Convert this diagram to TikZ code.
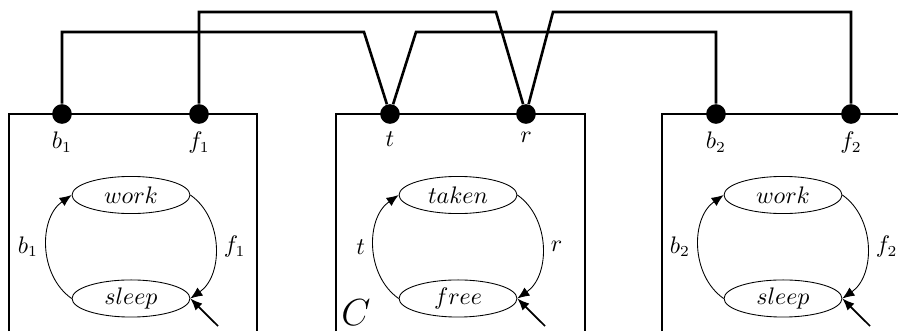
\documentclass[tikz,border=0pt]{standalone}
\usepackage{amsmath}
\usepackage{tikz}
\usetikzlibrary{arrows.meta,positioning,shapes.geometric}

\begin{document}
\begin{tikzpicture}[x=0.0161cm, y=0.0161cm,
    every node/.style={font=\fontsize{10.7}{13}\selectfont},
    state/.style={draw, ellipse, thin, minimum width=54pt, minimum height=17pt, inner sep=0pt},
    port/.style={circle, fill=black, minimum size=9pt, inner sep=0pt},
    comp/.style={line width=1.2pt},
    wire/.style={line width=1.2pt},
    trans/.style={-{Latex[length=5.5pt, width=4.5pt]}, thin},
    init/.style={-{Latex[length=5.5pt, width=4.5pt]}, thick},
    node distance=30pt,
]
\useasboundingbox (0,0) rectangle (898,-331);

% Components
\draw[comp] (9,-331) |- (257,-114) -- (257,-331);
\draw[comp] (336,-331) |- (585,-114) -- (585,-331);
\draw[comp] (662,-331) |- (898,-114);

% Ports
\node[port, label={[label distance=0pt]below:$b_1$}] (b1) at (62,-114) {};
\node[port, label={[label distance=0pt]below:$f_1$}] (f1) at (199,-114) {};
\node[port, label={[label distance=0pt]below:$t$}] (t) at (390,-114) {};
\node[port, label={[label distance=0pt]below:$r$}] (r) at (526,-114) {};
\node[port, label={[label distance=0pt]below:$b_2$}] (b2) at (716,-114) {};
\node[port, label={[label distance=0pt]below:$f_2$}] (f2) at (851,-114) {};

% Wires
\coordinate (k1) at (364,-32);
\coordinate (k2) at (496,-12);
\coordinate (k3) at (416,-32);
\coordinate (k4) at (553,-12);
\draw[wire] (b1) |- (k1) -- (t);
\draw[wire] (f1) |- (k2) -- (r);
\draw[wire] (t) -- (k3) -| (b2);
\draw[wire] (r) -- (k4) -| (f2);

% Worker 1
\node[state] (work1) at (131,-195) {$work$};
\node[state, below=of work1] (sleep1) {$sleep$};
\coordinate (in1) at (218,-326);
\draw[trans] (sleep1.west) to[bend left=55] node[left=0.5pt] {$b_1$} (work1.west);
\draw[trans] (work1.east) to[bend left=55] node[right=0.5pt] {$f_1$} (sleep1.east);
\draw[init] (in1) -- (sleep1.east);

% Channel
\node[state] (taken) at (458,-195) {$taken$};
\node[state, below=of taken] (free) {$free$};
\coordinate (in2) at (545,-326);
\draw[trans] (free.west) to[bend left=55] node[left=0.5pt] {$t$} (taken.west);
\draw[trans] (taken.east) to[bend left=55] node[right=0.5pt] {$r$} (free.east);
\draw[init] (in2) -- (free.east);
\node[font=\LARGE] (clabel) at (356,-313) {$C$};

% Worker 2
\node[state] (work2) at (783,-195) {$work$};
\node[state, below=of work2] (sleep2) {$sleep$};
\coordinate (in3) at (870,-326);
\draw[trans] (sleep2.west) to[bend left=55] node[left=0.5pt] {$b_2$} (work2.west);
\draw[trans] (work2.east) to[bend left=55] node[right=0.5pt] {$f_2$} (sleep2.east);
\draw[init] (in3) -- (sleep2.east);
\end{tikzpicture}
\end{document}
